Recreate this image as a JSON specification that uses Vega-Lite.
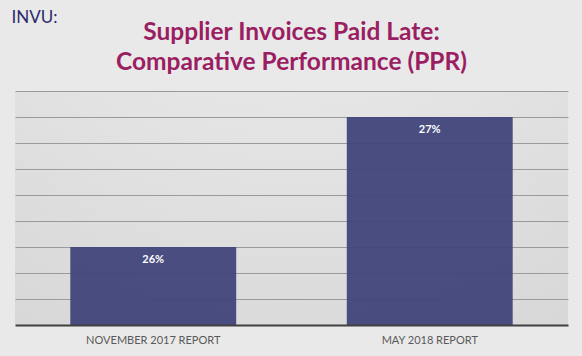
{
  "$schema": "https://vega.github.io/schema/vega-lite/v6.json",
  "autosize": "none",
  "width": 553,
  "height": 234,
  "padding": {"left": 15, "top": 91, "right": 14, "bottom": 31},
  "background": "#e9e9e9",
  "title": {
    "text": ["Supplier Invoices Paid Late:", "Comparative Performance (PPR)"],
    "font": "Lato",
    "fontSize": 24.5,
    "fontWeight": "bold",
    "color": "#9B1D62",
    "anchor": "middle",
    "lineHeight": 30,
    "offset": -67
  },
  "data": {
    "values": [
      {"report": "NOVEMBER 2017 REPORT", "late": 0.26},
      {"report": "MAY 2018 REPORT", "late": 0.27}
    ]
  },
  "encoding": {
    "x": {
      "field": "report",
      "type": "nominal",
      "sort": null,
      "scale": {"paddingInner": 0.4, "paddingOuter": 0.2},
      "axis": {
        "title": null,
        "labelAngle": 0,
        "labelFont": "Lato",
        "labelFontSize": 11,
        "labelColor": "#595959",
        "labelPadding": 9,
        "ticks": false,
        "domainColor": "#404040",
        "domainWidth": 2,
        "zindex": 1
      }
    },
    "y": {
      "field": "late",
      "type": "quantitative",
      "scale": {"domain": [0.254, 0.272], "zero": false, "nice": false},
      "axis": {
        "title": "INVU:",
        "titleFont": "Lato",
        "titleFontSize": 17,
        "titleFontWeight": "normal",
        "titleColor": "#2B2B6B",
        "titleAngle": 0,
        "titleAlign": "left",
        "titleBaseline": "top",
        "titleX": -4,
        "titleY": -82,
        "labels": false,
        "ticks": false,
        "domain": false,
        "grid": true,
        "gridColor": "#9a9a9a",
        "gridWidth": 1,
        "values": [0.256, 0.258, 0.26, 0.262, 0.264, 0.266, 0.268, 0.27, 0.272]
      }
    }
  },
  "layer": [
    {
      "mark": {"type": "bar", "color": "#40447A", "opacity": 0.95, "clip": true}
    },
    {
      "mark": {"type": "text", "color": "white", "font": "Lato", "fontSize": 11, "fontWeight": "bold", "baseline": "middle", "dy": 13},
      "encoding": {
        "text": {"field": "late", "type": "quantitative", "format": ".0%"}
      }
    }
  ],
  "config": {
    "view": {
      "stroke": null,
      "fill": {
        "gradient": "radial",
        "x1": 0.5, "y1": -0.2, "r1": 0,
        "x2": 0.5, "y2": -0.2, "r2": 1.1,
        "stops": [
          {"offset": 0, "color": "#f2f2f2"},
          {"offset": 1, "color": "#d6d6d6"}
        ]
      }
    }
  }
}
